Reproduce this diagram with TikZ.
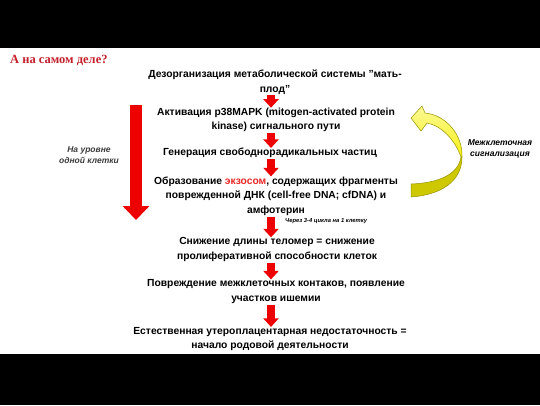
\documentclass[tikz,border=0pt]{standalone}
\usepackage{fontspec}
\setmainfont{Liberation Sans}
\newfontfamily\titlefont{Liberation Serif}
\usetikzlibrary{arrows.meta}
\definecolor{arrowred}{RGB}{236,0,0}
\definecolor{titlered}{RGB}{196,32,44}
\definecolor{exored}{RGB}{232,40,40}
\definecolor{notegray}{RGB}{60,60,60}
\definecolor{yellowlight}{RGB}{252,250,150}
\definecolor{yellowtop}{RGB}{245,240,20}
\definecolor{yellowbot}{RGB}{205,200,0}
\definecolor{yellowline}{RGB}{150,145,0}
\begin{document}
\begin{tikzpicture}[x=1pt, y=-1pt,
    stepbox/.style={align=center, inner sep=1pt, font=\bfseries\fontsize{10.3}{14.6}\selectfont},
    redarrow/.style={draw=arrowred, line width=7.5pt, -{Triangle[width=15pt,length=8.5pt]}, shorten <=0pt, shorten >=-1pt},
    bigarrow/.style={draw=arrowred, line width=12pt, -{Triangle[width=26pt,length=14pt]}},
    sidenote/.style={align=center, inner sep=0pt, font=\bfseries\itshape\fontsize{8.5}{11.5}\selectfont}]
    % Frame
    \useasboundingbox (0,0) rectangle (540,405);
    \fill[white] (0,0) rectangle (540,405);
    \fill[black] (0,0) rectangle (540,48);
    \fill[black] (0,354) rectangle (540,405);
    % Title
    \node[anchor=west, inner sep=0pt, text=titlered, font=\titlefont\bfseries\fontsize{12.5}{14}\selectfont] (title) at (10,60) {А на самом деле?};
    % Steps
    \node[stepbox] (step-1) at (275,82) {Дезорганизация метаболической системы \symbol{34}мать-\\плод\symbol{34}};
    \node[stepbox] (step-2) at (276,120) {Активация p38MAPK (mitogen-activated protein\\kinase) сигнального пути};
    \node[stepbox] (step-3) at (270,153) {Генерация свободнорадикальных частиц};
    \node[stepbox] (step-4) at (276,196) {Образование \textcolor{exored}{экзосом}, содержащих фрагменты\\поврежденной ДНК (cell-free DNA; cfDNA) и\\амфотерин};
    \node[stepbox] (step-5) at (277,249.5) {Снижение длины теломер = снижение\\пролиферативной способности клеток};
    \node[stepbox] (step-6) at (276,291.5) {Повреждение межклеточных контаков, появление\\участков ишемии};
    \node[stepbox] (step-7) at (270,339) {Естественная утероплацентарная недостаточность =\\начало родовой деятельности};
    % Connect the steps
    \coordinate (spine) at (271,0);
    \foreach \i/\j in {1/2,2/3,3/4,4/5,5/6,6/7} \draw[redarrow] (step-\i.south -| spine) -- (step-\j.north -| spine);
    \node[anchor=west, inner sep=0pt, font=\bfseries\itshape\fontsize{5.8}{6}\selectfont] (cycles) at (285,221) {Через 3-4 цикла на 1 клетку};
    % Single cell level
    \coordinate (cell-top) at (136,105);
    \coordinate (cell-bot) at (136,220);
    \draw[bigarrow] (cell-top) -- (cell-bot);
    \node[sidenote, text=notegray] (cell-level) at (89,155) {На уровне\\одной клетки};
    % Intercellular signalling
    \shade[top color=yellowlight, bottom color=yellowtop, draw=yellowline, line width=0.5pt] (461,157) .. controls (455,140) and (442,126) .. (427,123) -- (421,131) -- (411,118) -- (422,106) -- (425,113) .. controls (446,115) and (463,135) .. (462,157) -- cycle;
    \filldraw[fill=yellowbot, draw=yellowline, line width=0.5pt] (462,157) .. controls (462,182) and (440,195) .. (411,197) -- (411,184) .. controls (438,183) and (458,175) .. (461,157) -- cycle;
    \node[sidenote] (signalling) at (500,149) {Межклеточная\\сигнализация};
\end{tikzpicture}
\end{document}
